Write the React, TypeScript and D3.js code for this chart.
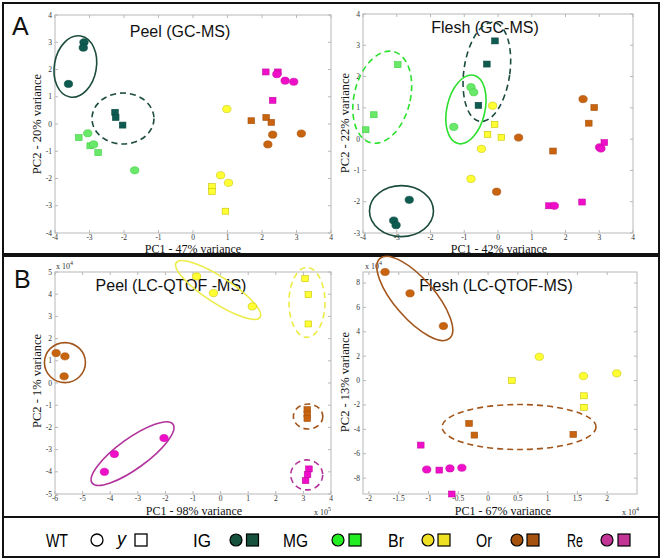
import React from 'react';
import * as d3 from 'd3';

// colours per developmental stage
const stages = ['IG', 'MG', 'Br', 'Or', 'Re'];
const fillCol: Record<string, string> = { IG: '#0f5b52', MG: '#6ae86a', Br: '#ffff33', Or: '#c8640f', Re: '#f00fc8' };
const edgeCol: Record<string, string> = { IG: '#0a4a42', MG: '#3fcf3f', Br: '#c8c400', Or: '#a8520c', Re: '#c80aa6' };
const ringCol: Record<string, string> = { IG: '#1c4c3e', MG: '#2ee02e', Br: '#ecec45', Or: '#a2561c', Re: '#b2339c' };
const legendCol: Record<string, string> = { IG: '#17523f', MG: '#22ee22', Br: '#f0e024', Or: '#a4520e', Re: '#c23596' };

// Peel GC-MS  (WT = circles, y = squares)
const peelGcWt = [
  { g: 'IG', x: -3.16, y: 3.0 }, { g: 'IG', x: -3.18, y: 2.8 }, { g: 'IG', x: -3.61, y: 1.47 },
  { g: 'MG', x: -3.05, y: -0.34 }, { g: 'MG', x: -2.88, y: -0.75 }, { g: 'MG', x: -1.69, y: -1.7 },
  { g: 'Br', x: 0.98, y: 0.55 }, { g: 'Br', x: 0.8, y: -1.88 }, { g: 'Br', x: 1.03, y: -2.16 },
  { g: 'Or', x: 2.31, y: -0.39 }, { g: 'Or', x: 3.14, y: -0.35 }, { g: 'Or', x: 2.17, y: -0.75 },
  { g: 'Re', x: 2.43, y: 1.83 }, { g: 'Re', x: 2.67, y: 1.59 }, { g: 'Re', x: 2.92, y: 1.55 },
];
const peelGcY = [
  { g: 'IG', x: -2.26, y: 0.43 }, { g: 'IG', x: -2.24, y: 0.24 }, { g: 'IG', x: -2.04, y: -0.04 },
  { g: 'MG', x: -3.31, y: -0.5 }, { g: 'MG', x: -2.98, y: -0.8 }, { g: 'MG', x: -2.75, y: -1.05 },
  { g: 'Br', x: 0.55, y: -2.3 }, { g: 'Br', x: 0.55, y: -2.48 }, { g: 'Br', x: 0.94, y: -3.2 },
  { g: 'Or', x: 1.69, y: 0.12 }, { g: 'Or', x: 2.12, y: 0.24 }, { g: 'Or', x: 2.27, y: 0.06 },
  { g: 'Re', x: 2.11, y: 1.91 }, { g: 'Re', x: 2.46, y: 1.91 }, { g: 'Re', x: 2.31, y: 0.87 },
];

// Flesh GC-MS
const fleshGcWt = [
  { g: 'IG', x: -2.63, y: -1.94 }, { g: 'IG', x: -3.09, y: -2.6 }, { g: 'IG', x: -3.02, y: -2.75 },
  { g: 'MG', x: -0.8, y: 1.66 }, { g: 'MG', x: -0.72, y: 1.5 }, { g: 'MG', x: -1.31, y: 0.39 },
  { g: 'Br', x: -0.16, y: 1.07 }, { g: 'Br', x: -0.49, y: -0.31 }, { g: 'Br', x: -0.8, y: -1.27 },
  { g: 'Or', x: 2.52, y: 1.28 }, { g: 'Or', x: 0.61, y: 0.05 }, { g: 'Or', x: -0.04, y: -1.68 },
  { g: 'Re', x: 3.01, y: -0.26 }, { g: 'Re', x: 3.05, y: -0.3 }, { g: 'Re', x: 1.67, y: -2.13 },
];
const fleshGcY = [
  { g: 'IG', x: -0.09, y: 3.14 }, { g: 'IG', x: -0.33, y: 2.4 }, { g: 'IG', x: -0.58, y: 1.08 },
  { g: 'MG', x: -2.97, y: 2.38 }, { g: 'MG', x: -3.68, y: 0.78 }, { g: 'MG', x: -3.92, y: 0.3 },
  { g: 'Br', x: -0.1, y: 0.47 }, { g: 'Br', x: -0.31, y: 0.15 }, { g: 'Br', x: 0.1, y: 0.06 },
  { g: 'Or', x: 2.85, y: 1.01 }, { g: 'Or', x: 2.69, y: 0.51 }, { g: 'Or', x: 1.63, y: -0.38 },
  { g: 'Re', x: 3.15, y: -0.11 }, { g: 'Re', x: 1.51, y: -2.13 }, { g: 'Re', x: 2.49, y: -2.01 },
];

// Peel LC-QTOF-MS  (x in 1e5, y in 1e4)
const peelLcWt = [
  { g: 'Br', x: -0.87, y: 4.8 }, { g: 'Br', x: -0.26, y: 4.05 }, { g: 'Br', x: 1.15, y: 3.45 },
  { g: 'Or', x: -5.96, y: 1.35 }, { g: 'Or', x: -5.64, y: 1.2 }, { g: 'Or', x: -5.67, y: 0.3 },
  { g: 'Re', x: -2.05, y: -2.48 }, { g: 'Re', x: -3.85, y: -3.2 }, { g: 'Re', x: -4.21, y: -4.0 },
];
const peelLcY = [
  { g: 'Br', x: 3.06, y: 4.7 }, { g: 'Br', x: 3.18, y: 3.98 }, { g: 'Br', x: 3.18, y: 2.66 },
  { g: 'Or', x: 3.14, y: -1.2 }, { g: 'Or', x: 3.14, y: -1.4 }, { g: 'Or', x: 3.14, y: -1.6 },
  { g: 'Re', x: 3.2, y: -3.87 }, { g: 'Re', x: 3.15, y: -4.13 }, { g: 'Re', x: 3.08, y: -4.4 },
];

// Flesh LC-QTOF-MS  (x in 1e4, y in 1e4)
const fleshLcWt = [
  { g: 'Or', x: -1.73, y: 8.9 }, { g: 'Or', x: -1.31, y: 7.15 }, { g: 'Or', x: -0.75, y: 4.47 },
  { g: 'Br', x: 0.86, y: 1.95 }, { g: 'Br', x: 1.6, y: 0.37 }, { g: 'Br', x: 2.16, y: 0.59 },
  { g: 'Re', x: -1.03, y: -7.29 }, { g: 'Re', x: -0.64, y: -7.2 }, { g: 'Re', x: -0.44, y: -7.15 },
];
const fleshLcY = [
  { g: 'Br', x: 0.4, y: 0.0 }, { g: 'Br', x: 1.61, y: -1.25 }, { g: 'Br', x: 1.61, y: -2.2 },
  { g: 'Or', x: -0.32, y: -3.51 }, { g: 'Or', x: -0.23, y: -4.47 }, { g: 'Or', x: 1.43, y: -4.41 },
  { g: 'Re', x: -1.13, y: -5.29 }, { g: 'Re', x: -0.82, y: -7.34 }, { g: 'Re', x: -0.61, y: -9.3 },
];

// tick labels
const ticksM4to4 = [-4, -3, -2, -1, 0, 1, 2, 3, 4];
const ticksM3to4 = [-3, -2, -1, 0, 1, 2, 3, 4];
const ticksM6to4 = [-6, -5, -4, -3, -2, -1, 0, 1, 2, 3, 4];
const ticksM5to5 = [-5, -4, -3, -2, -1, 0, 1, 2, 3, 4, 5];
const ticksHalf = [-2, -1.5, -1, -0.5, 0, 0.5, 1, 1.5, 2];
const ticksEven = [-8, -6, -4, -2, 0, 2, 4, 6, 8];

// group ellipses: centre in data units, radii in px
const peelGcRings = [
  { g: 'IG', cx: -3.41, cy: 2.11, rx: 21, ry: 31, a: 10, dash: false },
  { g: 'IG', cx: -2.03, cy: 0.2, rx: 31, ry: 25.5, a: 0, dash: true },
];
const fleshGcRings = [
  { g: 'IG', cx: -0.33, cy: 2.15, rx: 23, ry: 50, a: 8, dash: true },
  { g: 'MG', cx: -0.95, cy: 0.95, rx: 19, ry: 35, a: 13, dash: false },
  { g: 'MG', cx: -3.43, cy: 1.34, rx: 28, ry: 47, a: 14, dash: true },
  { g: 'IG', cx: -2.86, cy: -2.3, rx: 32, ry: 25.5, a: 0, dash: false },
];
const peelLcRings = [
  { g: 'Br', cx: -0.09, cy: 4.19, rx: 50, ry: 13, a: 33, dash: false },
  { g: 'Br', cx: 3.13, cy: 3.63, rx: 18, ry: 35, a: 0, dash: true },
  { g: 'Or', cx: -5.64, cy: 0.92, rx: 20.5, ry: 20, a: 0, dash: false },
  { g: 'Or', cx: 3.17, cy: -1.51, rx: 14.7, ry: 12.5, a: 0, dash: true },
  { g: 'Re', cx: -3.19, cy: -3.18, rx: 50, ry: 15, a: -36, dash: false },
  { g: 'Re', cx: 3.12, cy: -4.14, rx: 16, ry: 15, a: 0, dash: true },
];
const fleshLcRings = [
  { g: 'Or', cx: -1.23, cy: 6.73, rx: 53, ry: 20, a: 49, dash: false },
  { g: 'Or', cx: 0.52, cy: -3.81, rx: 77, ry: 22.5, a: 0, dash: true },
];

const sans = '"Liberation Sans", Arial, sans-serif';
const serif = '"Liberation Serif", "Times New Roman", serif';

const panels = [
  {
    title: 'Peel (GC-MS)', tx: 180, ty: 37,
    xDomain: [-4, 4], yDomain: [-4, 4], xRange: [55, 331], yRange: [233, 15],
    xTicks: ticksM4to4, yTicks: ticksM4to4,
    xLabel: 'PC1 - 47% variance', xlx: 193, xly: 252.5,
    yLabel: 'PC2 - 20% variance', ylx: 41, yly: 124,
    wt: peelGcWt, mu: peelGcY, rings: peelGcRings,
  },
  {
    title: 'Flesh (GC-MS)', tx: 485, ty: 33,
    xDomain: [-4, 4], yDomain: [-3, 4], xRange: [363, 633], yRange: [233, 14],
    xTicks: ticksM4to4, yTicks: ticksM3to4,
    xLabel: 'PC1 - 42% variance', xlx: 499, xly: 252.5,
    yLabel: 'PC2 - 22% variance', ylx: 349, yly: 123,
    wt: fleshGcWt, mu: fleshGcY, rings: fleshGcRings,
  },
  {
    title: 'Peel (LC-QTOF -MS)', tx: 171, ty: 291,
    xDomain: [-6, 4], yDomain: [-5, 5], xRange: [55, 331], yRange: [494, 272],
    xTicks: ticksM6to4, yTicks: ticksM5to5,
    xLabel: 'PC1 - 98% variance', xlx: 194, xly: 514.5,
    yLabel: 'PC2 - 1% variance', ylx: 41, yly: 381,
    xExp: '5', xex: 314, yExp: '4', yex: 56,
    wt: peelLcWt, mu: peelLcY, rings: peelLcRings,
  },
  {
    title: 'Flesh (LC-QTOF-MS)', tx: 496, ty: 291,
    xDomain: [-2.1, 2.5], yDomain: [-9.3, 8.9], xRange: [363, 637], yRange: [494, 272],
    xTicks: ticksHalf, yTicks: ticksEven,
    xLabel: 'PC1 - 67% variance', xlx: 503, xly: 514.5,
    yLabel: 'PC2 - 13% variance', ylx: 349, yly: 382,
    xExp: '4', xex: 622, yExp: '4', yex: 365,
    wt: fleshLcWt, mu: fleshLcY, rings: fleshLcRings,
  },
];

const Panel = ({ p }: { p: any }) => {
  const sx = d3.scaleLinear().domain(p.xDomain).range(p.xRange);
  const sy = d3.scaleLinear().domain(p.yDomain).range(p.yRange);
  const [x0, x1] = p.xRange;
  const [y0, y1] = p.yRange; // y0 bottom, y1 top
  const axisCol = '#b8b8b8';
  const tl = 3;
  return (
    <g>
      <rect x={x0} y={y1} width={x1 - x0} height={y0 - y1} fill="none" stroke={axisCol} strokeWidth={1} />
      {p.xTicks.map((t: number) => (
        <g key={'x' + t}>
          <line x1={sx(t)} x2={sx(t)} y1={y0} y2={y0 - tl} stroke={axisCol} />
          <line x1={sx(t)} x2={sx(t)} y1={y1} y2={y1 + tl} stroke={axisCol} />
          <text x={sx(t)} y={y0 + 6.5} fontSize={7.5} fontFamily={serif} fill="#333" textAnchor="middle">{t}</text>
        </g>
      ))}
      {p.yTicks.map((t: number) => (
        <g key={'y' + t}>
          <line x1={x0} x2={x0 + tl} y1={sy(t)} y2={sy(t)} stroke={axisCol} />
          <line x1={x1} x2={x1 - tl} y1={sy(t)} y2={sy(t)} stroke={axisCol} />
          <text x={x0 - 3} y={sy(t) + 2.5} fontSize={7.5} fontFamily={serif} fill="#333" textAnchor="end">{t}</text>
        </g>
      ))}
      {p.xExp && (
        <text x={p.xex} y={p.xly} fontSize={8} fontFamily={serif} fill="#333">
          x 10<tspan dy={-4} fontSize={6}>{p.xExp}</tspan>
        </text>
      )}
      {p.yExp && (
        <text x={p.yex} y={y1 - 3} fontSize={8} fontFamily={serif} fill="#333">
          x 10<tspan dy={-4} fontSize={6}>{p.yExp}</tspan>
        </text>
      )}
      <text x={p.xlx} y={p.xly} fontSize={12} fontFamily={serif} textAnchor="middle" fill="#111">{p.xLabel}</text>
      <text transform={`translate(${p.ylx},${p.yly}) rotate(-90)`} fontSize={12.5} fontFamily={serif} textAnchor="middle" fill="#111">{p.yLabel}</text>
      <text x={p.tx} y={p.ty} fontSize={16} fontFamily={sans} textAnchor="middle" fill="#111">{p.title}</text>
      {p.rings.map((r: any, i: number) => {
        const cx = sx(r.cx);
        const cy = sy(r.cy);
        return (
          <ellipse key={'r' + i} cx={cx} cy={cy} rx={r.rx} ry={r.ry}
            transform={`rotate(${r.a} ${cx} ${cy})`} fill="none" stroke={ringCol[r.g]}
            strokeWidth={1.6} strokeDasharray={r.dash ? '6 4' : undefined} />
        );
      })}
      {p.mu.map((d: any, i: number) => (
        <rect key={'s' + i} x={sx(d.x) - 3.3} y={sy(d.y) - 3} width={6.6} height={6}
          fill={fillCol[d.g]} stroke={edgeCol[d.g]} strokeWidth={0.6} />
      ))}
      {p.wt.map((d: any, i: number) => (
        <ellipse key={'c' + i} cx={sx(d.x)} cy={sy(d.y)} rx={4.2} ry={3.6}
          fill={fillCol[d.g]} stroke={edgeCol[d.g]} strokeWidth={0.6} />
      ))}
    </g>
  );
};

// legend x positions: label, circle, square
const legendPos: Record<string, number[]> = {
  IG: [193, 236, 252.5], MG: [283, 338, 355], Br: [388, 428, 444], Or: [476, 517, 533], Re: [567, 607, 624],
};

const Legend = () => {
  const ly = 547;
  const my = 540;
  return (
    <g>
      <text x={46} y={ly} fontSize={19} fontFamily={sans} textLength={22} lengthAdjust="spacingAndGlyphs">WT</text>
      <circle cx={97} cy={my} r={6} fill="#fff" stroke="#000" strokeWidth={1.3} />
      <text x={117} y={ly - 2} fontSize={19} fontFamily={sans} fontStyle="italic" textLength={9} lengthAdjust="spacingAndGlyphs">y</text>
      <rect x={135} y={my - 6} width={12} height={12} fill="#fff" stroke="#000" strokeWidth={1.3} />
      {stages.map((s) => {
        const [tx, cx, qx] = legendPos[s];
        return (
          <g key={s}>
            <text x={tx} y={ly} fontSize={19} fontFamily={sans} textLength={s === 'MG' ? 25 : s === 'IG' ? 18 : 16} lengthAdjust="spacingAndGlyphs">{s}</text>
            <circle cx={cx} cy={my} r={6} fill={legendCol[s]} stroke="#000" strokeWidth={1.2} />
            <rect x={qx - 6} y={my - 6} width={12} height={12} fill={legendCol[s]} stroke="#000" strokeWidth={1.2} />
          </g>
        );
      })}
    </g>
  );
};

export default function App() {
  return (
    <svg width={662} height={560} style={{ position: 'absolute', left: 0, top: 0, background: '#fff' }}>
      <rect x={0} y={0} width={662} height={560} fill="#fff" />
      <rect x={3} y={3} width={656} height={251} fill="none" stroke="#111" strokeWidth={2} />
      <rect x={3} y={256} width={656} height={261} fill="none" stroke="#111" strokeWidth={2} />
      <rect x={3} y={517} width={656} height={40} fill="none" stroke="#111" strokeWidth={2} />
      <text x={12} y={35} fontSize={25} fontFamily={sans} fill="#111">A</text>
      <text x={14} y={288} fontSize={25} fontFamily={sans} fill="#111">B</text>
      {panels.map((p, i) => <Panel key={i} p={p} />)}
      <Legend />
    </svg>
  );
}
